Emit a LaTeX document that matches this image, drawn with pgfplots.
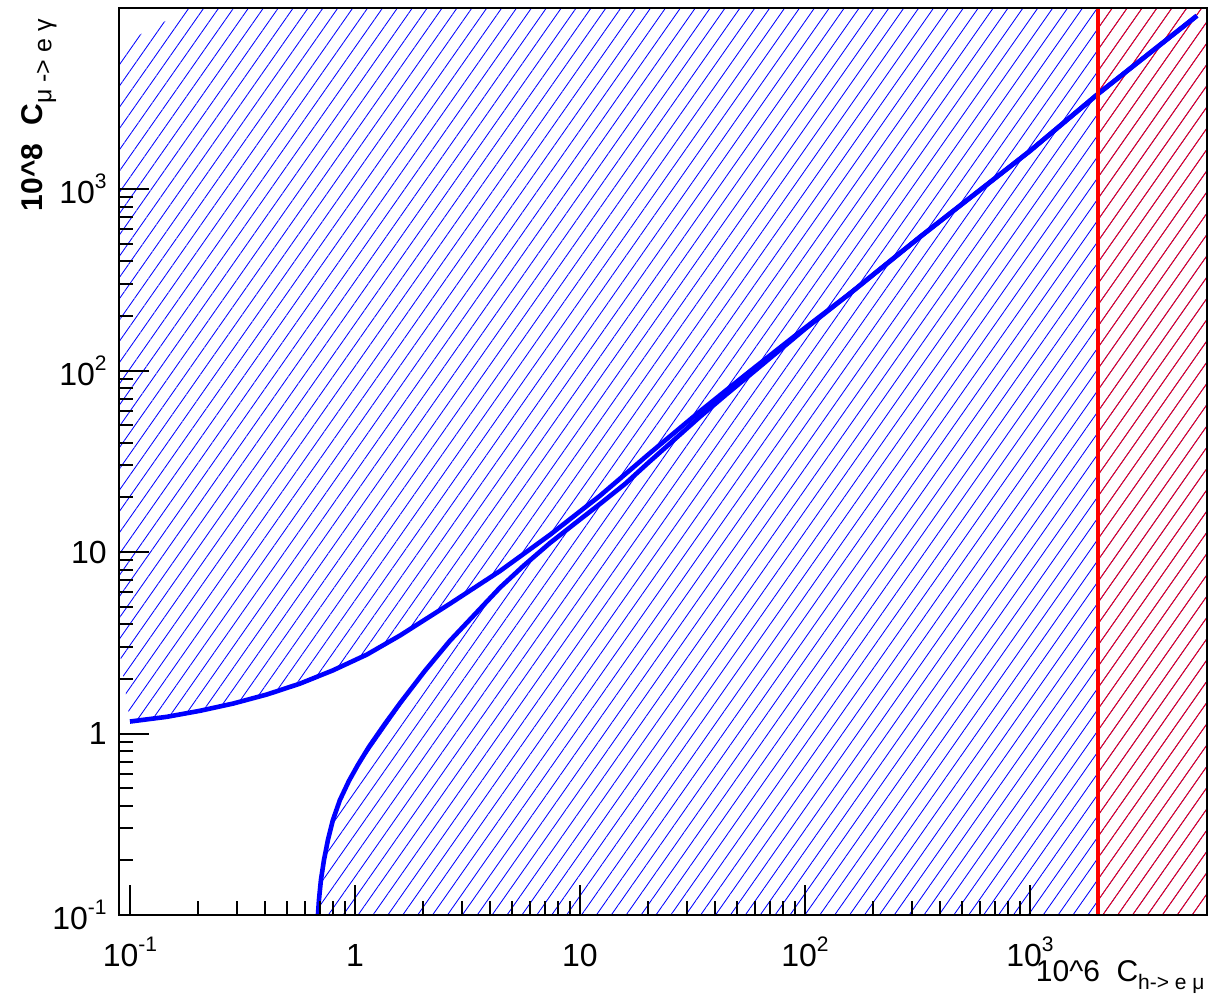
\documentclass[border=0pt]{standalone}
\usepackage{fontspec}
\setmainfont{Liberation Sans}
\usepackage{pgfplots}
\usepackage{pgfplotstable}
\pgfplotsset{compat=1.18}
\usetikzlibrary{patterns.meta}
\newcommand{\tsup}[1]{\raisebox{7.5pt}{\fontsize{10.5}{12}\selectfont #1}}
\newcommand{\tsub}[1]{\raisebox{-4pt}{\fontsize{10.5}{12}\selectfont #1}}
\newcommand{\ysub}[1]{\raisebox{-4.5pt}{\fontsize{12.5}{14}\selectfont\mdseries #1}}
\tikzset{rhatch/.style={pattern={Lines[angle=55,distance=6.1pt,line width=0.42pt]}}}
\pgfplotstableread{
x y
0.1 1.164
0.1459 1.236
0.2047 1.334
0.2871 1.462
0.4064 1.641
0.5702 1.884
0.7980 2.228
1.130 2.723
1.585 3.467
2.642 5.188
4.406 7.852
7.362 12.45
12.27 20.42
20.46 35.08
34.12 59.57
57.02 99.31
100 171.8
158.5 266.1
324.3 544.5
1000 1622
2004 3342
5521 9016
}\uppercurve
\pgfplotstableread{
x y
0.6848 0.1
0.6918 0.1210
0.7060 0.1560
0.7284 0.2010
0.7586 0.2593
0.7985 0.3342
0.8577 0.4307
0.9404 0.5483
1.031 0.6723
1.154 0.8445
1.359 1.131
1.585 1.468
2.047 2.217
2.644 3.246
4.410 6.365
5.623 8.414
7.362 11.22
9.550 14.45
12.27 18.41
15.85 23.71
20.46 31.62
26.30 41.69
34.12 55.59
44.67 73.79
63.10 105.2
100 169.4
158.5 266.1
324.3 544.5
1000 1622
2004 3342
5521 9016
}\lowercurve
\begin{document}
\begin{tikzpicture}
\begin{axis}[
  at={(0,0)}, anchor=south west,
  scale only axis, width=544pt, height=453.5pt,
  xmode=log, ymode=log,
  xmin=0.0894, xmax=6120, ymin=0.1, ymax=9950,
  axis on top,
  tick pos=left,
  tick align=inside,
  major tick length=15pt, minor tick length=7pt,
  every tick/.style={black, line width=1pt},
  axis line style={line width=1.3pt},
  xtick={0.1,1,10,100,1000},
  xticklabels={10\tsup{-1},1,10,10\tsup{2},10\tsup{3}},
  ytick={0.1,1,10,100,1000},
  yticklabels={10\tsup{-1},1,10,10\tsup{2},10\tsup{3}},
  /pgf/number format/assume math mode=true,
  tick label style={font=\fontsize{16}{19}\selectfont},
  xticklabel style={anchor=base, inner sep=0pt, yshift=-26pt},
  yticklabel style={anchor=east, inner sep=0pt, xshift=-6pt},
]
% blue hatched region above the upper curve
\addplot[draw=none, rhatch, pattern color=blue] coordinates {
(0.1,1.164) (0.1459,1.236) (0.2047,1.334) (0.2871,1.462) (0.4064,1.641)
(0.5702,1.884) (0.7980,2.228) (1.130,2.723) (1.585,3.467) (2.642,5.188)
(4.406,7.852) (7.362,12.45) (12.27,20.42) (20.46,35.08) (34.12,59.57)
(57.02,99.31) (100,171.8) (158.5,266.1) (324.3,544.5) (1000,1622)
(2004,3342) (5521,9016) (10000,9016) (10000,20000) (0.185,9950)
(0.0894,6160) (0.0894,3.0) (0.1,1.164)
};
% blue hatched region below the lower curve
\addplot[draw=none, rhatch, pattern color=blue] coordinates {
(0.6848,0.1) (0.6918,0.1210) (0.7060,0.1560) (0.7284,0.2010) (0.7586,0.2593)
(0.7985,0.3342) (0.8577,0.4307) (0.9404,0.5483) (1.031,0.6723) (1.154,0.8445)
(1.359,1.131) (1.585,1.468) (2.047,2.217) (2.644,3.246) (4.410,6.365)
(5.623,8.414) (7.362,11.22) (9.550,14.45) (12.27,18.41) (15.85,23.71)
(20.46,31.62) (26.30,41.69) (34.12,55.59) (44.67,73.79) (63.10,105.2)
(100,169.4) (158.5,266.1) (324.3,544.5) (1000,1622) (2004,3342) (5521,9016)
(10000,9016) (10000,0.05) (0.6848,0.05)
};
% red hatched region
\addplot[draw=none, rhatch, pattern color=red] coordinates {
(2004,0.05) (2004,20000) (10000,20000) (10000,0.05)
};
% curves
\addplot[blue, line width=2.3pt] table {\uppercurve};
\addplot[blue, line width=2.3pt] table {\lowercurve};
% red vertical line
\addplot[red, line width=2pt] coordinates {(2004,0.1) (2004,9950)};
\end{axis}
% axis titles
\node[rotate=90, anchor=east, inner sep=0pt, font=\fontsize{15}{18}\selectfont\bfseries]
  at (-40pt,448pt) {10\textasciicircum{}8\hspace{0.6em}C\ysub{μ -> e γ}};
\node[anchor=base east, inner sep=0pt, font=\fontsize{15}{18}\selectfont]
  at (543pt,-33.5pt) {10\textasciicircum{}6\hspace{0.55em}C\tsub{h-> e μ}};
\pgfresetboundingbox
\path[use as bounding box] (-59.5pt,-43pt) rectangle (546pt,457.5pt);
\end{tikzpicture}
\end{document}
